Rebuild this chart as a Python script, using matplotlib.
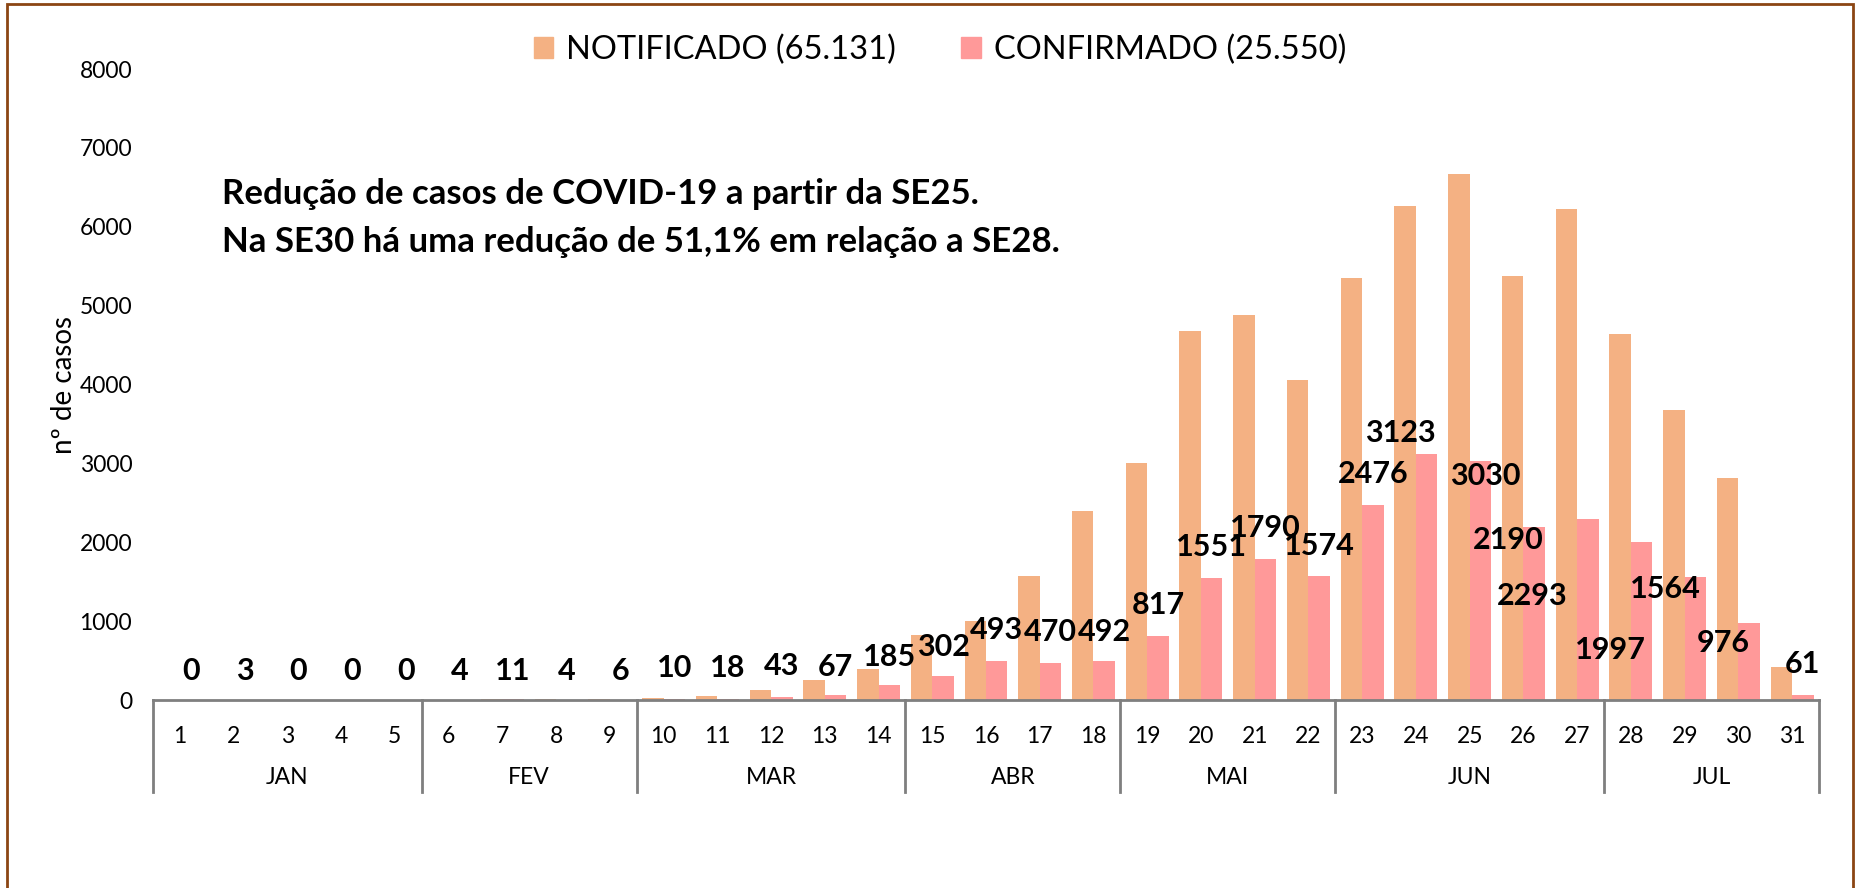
import matplotlib
matplotlib.use("Agg")
import matplotlib.pyplot as plt
from matplotlib.patches import Rectangle, Patch
from matplotlib.transforms import blended_transform_factory
import numpy as np

plt.rcParams['font.family'] = ['Lato', 'DejaVu Sans']

# epidemiological weeks and months
weeks = [str(w) for w in range(1, 32)]
months = ['JAN', 'FEV', 'MAR', 'ABR', 'MAI', 'JUN', 'JUL']
weeks_per_month = [5, 4, 5, 4, 4, 5, 4]

notificado = [0, 0, 0, 0, 0, 3, 12, 10, 12, 30,
              57, 125, 250, 395, 830, 1000, 1575, 2400, 3000, 4680,
              4876, 4060, 5345, 6265, 6670, 5370, 6220, 4635, 3675, 2810,
              422]
confirmado = [0, 3, 0, 0, 0, 4, 11, 4, 6, 10,
              18, 43, 67, 185, 302, 493, 470, 492, 817, 1551,
              1790, 1574, 2476, 3123, 3030, 2190, 2293, 1997, 1564, 976,
              61]

legend_labels = ['NOTIFICADO (65.131)', 'CONFIRMADO (25.550)']
note_lines = ['Redução de casos de COVID-19 a partir da SE25.',
              'Na SE30 há uma redução de 51,1% em relação a SE28.']

# where the (hand moved) data labels sit: shift in categories, height in cases
label_dx = [0]*23 + [-0.49, 0.09, -0.49, -1.04, -0.58, -0.56, -0.49, 0]
label_y = [368]*9 + [405, 405, 430, 420, 545, 672, 887, 862, 862, 1204, 1940,
                     2180, 1952, 2865, 3381, 2840, 2028, 1318, 634, 1407, 727, 452]

c_not = '#F4B183'
c_conf = '#FF9999'

W, H = 1858, 888
fig = plt.figure(figsize=(W/100, H/100), dpi=100)
ax = fig.add_axes([153/W, 1 - 700/H, (1819-153)/W, (700-69)/H])

x = np.arange(len(weeks))
ax.bar(x - 0.2, notificado, width=0.4, color=c_not, linewidth=0)
ax.bar(x + 0.2, confirmado, width=0.4, color=c_conf, linewidth=0)

for i, v in enumerate(confirmado):
    ax.text(x[i] + 0.2 + label_dx[i], label_y[i], str(v), ha='center', va='center',
            fontsize=22, fontweight='bold', color='black')

ax.set_xlim(-0.5, len(weeks) - 0.5)
ax.set_ylim(0, 8000)
ax.set_yticks(range(0, 8001, 1000))
ax.tick_params(axis='y', length=0, pad=15, labelsize=16.5)
ax.set_xticks(x)
ax.set_xticklabels(weeks)
ax.tick_params(axis='x', length=0, pad=19, labelsize=16.5)
for s in ['top', 'right', 'left']:
    ax.spines[s].set_visible(False)
ax.spines['bottom'].set_color('#7f7f7f')
ax.spines['bottom'].set_linewidth(2)
ax.set_ylabel('nº de casos', fontsize=20, labelpad=2)

# month level of the axis
trans = blended_transform_factory(ax.transData, ax.transAxes)
edges = np.concatenate([[0], np.cumsum(weeks_per_month)]) - 0.5
depth = -92/631
for e in edges:
    ax.plot([e, e], [0, depth], transform=trans, color='#7f7f7f', lw=2, clip_on=False)
for m, a, b in zip(months, edges[:-1], edges[1:]):
    ax.text((a + b) / 2, -77/631, m, transform=trans, ha='center', va='center', fontsize=16.5)

# legend
handles = [Patch(color=c_not), Patch(color=c_conf)]
fig.legend(handles, legend_labels, loc='center', bbox_to_anchor=(940/W, 1 - 50/H), ncol=2,
           frameon=False, fontsize=23.5, handlelength=0.6, handleheight=0.6,
           handletextpad=0.4, columnspacing=2.0)

# note
fig.text(222/W, 1 - 194/H, note_lines[0], fontsize=25, fontweight='bold', va='center')
fig.text(222/W, 1 - 242/H, note_lines[1], fontsize=25, fontweight='bold', va='center')

# frame around the picture
fig.patches.append(Rectangle((7/W, -0.1), (1853-7)/W, 1.1 - 4/H, transform=fig.transFigure,
                             fill=False, edgecolor='#8B4513', linewidth=2))

fig.savefig('out.png', dpi=100)
